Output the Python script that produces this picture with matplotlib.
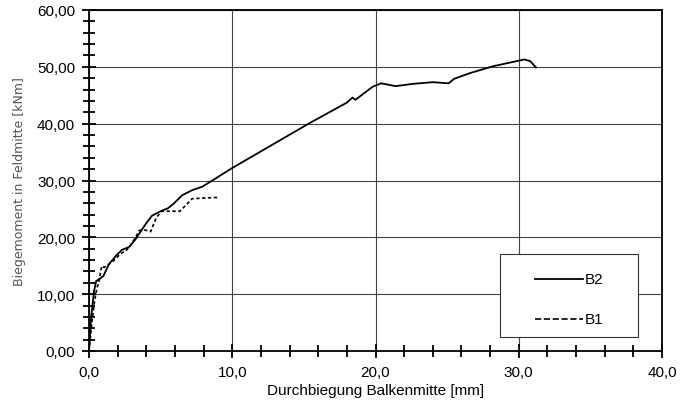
import matplotlib
matplotlib.use("Agg")
import matplotlib.pyplot as plt
from matplotlib.ticker import MultipleLocator, FuncFormatter
from matplotlib.patches import Rectangle
from matplotlib.lines import Line2D

# Versuchsdaten
# B2 (durchgezogen)
b2_w = [0, 0.15, 0.35, 0.5, 0.8, 1.0, 1.4, 1.9, 2.3, 2.8, 3.2, 3.6, 4.0, 4.4,
        5.0, 5.5, 5.9, 6.5, 7.2, 7.9, 8.8, 10.0, 15.4, 18.0, 18.4, 18.6, 19.8,
        20.4, 21.4, 22.6, 24.0, 25.1, 25.5, 26.6, 28.2, 30.4, 30.8, 31.2]
b2_m = [0, 6.0, 10.5, 12.3, 12.8, 13.2, 15.3, 16.8, 17.8, 18.3, 19.5, 21.0, 22.5, 23.8,
        24.6, 25.1, 25.9, 27.4, 28.3, 28.9, 30.3, 32.2, 40.1, 43.7, 44.6, 44.2, 46.5,
        47.1, 46.6, 47.0, 47.3, 47.1, 47.9, 48.9, 50.1, 51.3, 51.0, 49.9]

# B1 (gestrichelt)
b1_w = [0, 0.2, 0.4, 0.55, 0.7, 0.85, 0.95, 1.05, 1.4, 1.6, 2.2, 2.6, 2.9, 3.3,
        3.5, 3.9, 4.3, 4.7, 5.1, 5.9, 6.35, 7.2, 8.7, 9.0]
b1_m = [0, 5.0, 9.0, 11.0, 12.3, 14.5, 15.0, 14.7, 15.3, 15.6, 17.1, 17.7, 18.6, 20.2,
        21.2, 21.3, 21.0, 23.5, 24.6, 24.6, 24.6, 26.8, 27.0, 27.0]

plt.rcParams['font.family'] = ['Liberation Sans', 'DejaVu Sans']

fig = plt.figure(figsize=(6.93, 4.14), dpi=100)
ax = fig.add_axes([89/693, 1-352/414, (662-89)/693, (352-11)/414])

ax.plot(b2_w, b2_m, color='black', lw=1.3, label='B2')
ax.plot(b1_w, b1_m, color='black', lw=1.2, ls=(0, (2, 1.5)), label='B1')

ax.set_xlim(0, 40)
ax.set_ylim(0, 60)
ax.xaxis.set_major_locator(MultipleLocator(10))
ax.xaxis.set_minor_locator(MultipleLocator(2))
ax.yaxis.set_major_locator(MultipleLocator(10))
ax.yaxis.set_minor_locator(MultipleLocator(2))
ax.xaxis.set_major_formatter(FuncFormatter(lambda v, p: f"{v:.1f}".replace('.', ',')))
ax.yaxis.set_major_formatter(FuncFormatter(lambda v, p: f"{v:.2f}".replace('.', ',')))

ax.grid(True, which='major', color='#444444', lw=0.8)
ax.tick_params(which='major', direction='inout', length=10, width=1.3, labelsize=11, pad=5)
ax.tick_params(which='minor', direction='inout', length=8, width=1.3)
for s in ax.spines.values():
    s.set_linewidth(1.3)

ax.set_xlabel("Durchbiegung Balkenmitte [mm]", fontsize=11, labelpad=3)
ax.set_ylabel("Biegemoment in Feldmitte [kNm]", fontsize=9, color='#555555',
              family=['Liberation Sans Narrow', 'DejaVu Sans'], labelpad=8)

# Legende von Hand, Kasten wie im Original
lines = ax.get_lines()
box = Rectangle((0.717, 0.041), 0.241, 0.243, transform=ax.transAxes,
                facecolor='white', edgecolor='#333333', lw=0.8, zorder=5)
ax.add_patch(box)
for ln, yy in zip(lines, [0.211, 0.094]):
    ax.add_line(Line2D([0.778, 0.862], [yy, yy], transform=ax.transAxes,
                       color=ln.get_color(), lw=ln.get_linewidth(),
                       ls=ln.get_linestyle(), zorder=6))
    ax.text(0.866, yy, ln.get_label(), transform=ax.transAxes, fontsize=11,
            va='center', ha='left', zorder=6)

fig.savefig("out.png", dpi=100)
